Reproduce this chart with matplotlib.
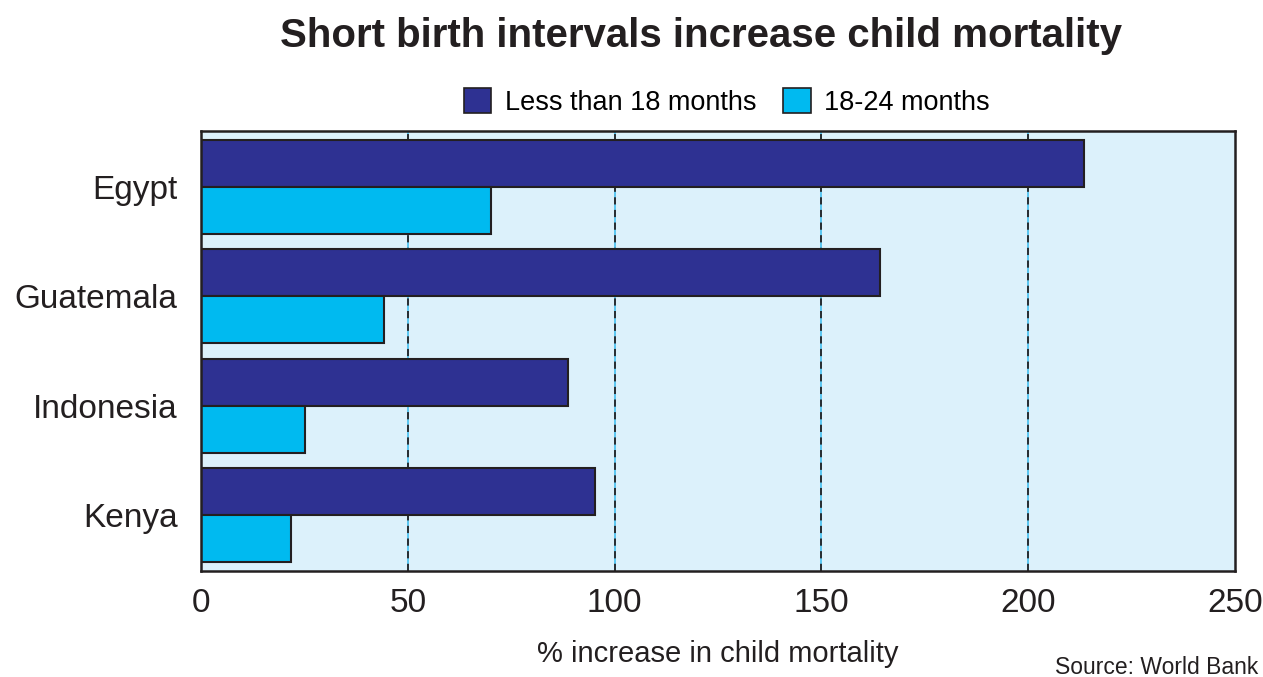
import matplotlib
matplotlib.use("Agg")
import matplotlib.pyplot as plt
from matplotlib.patches import Patch
import numpy as np

plt.rcParams['font.family'] = ['Liberation Sans', 'DejaVu Sans']

countries = ["Egypt", "Guatemala", "Indonesia", "Kenya"]
less18 = [213.5, 164.2, 88.7, 95.3]
m18_24 = [70.1, 44.2, 25.1, 21.8]
xticks = [0, 50, 100, 150, 200, 250]

dark = "#2E3192"
light = "#00BAF0"
bg = "#DCF1FB"
edge = "#231F20"

fig = plt.figure(figsize=(12.63, 6.77), dpi=100)
ax = fig.add_axes([201/1263, 1-571/677, (1235-201)/1263, (571-131)/677])
ax.set_facecolor(bg)

y = np.arange(len(countries))
h = 0.43
for gx in xticks[1:-1]:
    ax.axvline(gx, color="#4FC3F0", lw=1.3, zorder=1)
    ax.axvline(gx, color=edge, lw=1.3, ls=(0, (4, 3)), zorder=1.5)
ax.barh(y - h/2, less18, height=h, color=dark, edgecolor=edge, lw=1.5, zorder=2)
ax.barh(y + h/2, m18_24, height=h, color=light, edgecolor=edge, lw=1.5, zorder=2)

ax.set_xlim(0, 250)
ax.set_ylim(3.51, -0.51)
ax.set_yticks(y)
ax.set_yticklabels(countries, fontsize=24, color="#231F20")
ax.set_xticks(xticks)
ax.set_xticklabels([str(t) for t in xticks], fontsize=24, color="#231F20")
ax.tick_params(length=0, pad=12)
ax.tick_params(axis='y', pad=17)
for s in ax.spines.values():
    s.set_linewidth(1.8)
    s.set_color("#231F20")

ax.set_xlabel("% increase in child mortality", fontsize=21, color="#231F20", labelpad=15)

fig.text(701/1263, 1-36/677, "Short birth intervals increase child mortality", ha="center", va="center",
         fontsize=29, fontweight="bold", color="#231F20")

handles = [Patch(facecolor=dark, edgecolor=edge, lw=1.2), Patch(facecolor=light, edgecolor=edge, lw=1.2)]
fig.legend(handles, ["Less than 18 months", "18-24 months"], loc="center", bbox_to_anchor=(727/1263, 1-102/677),
           ncol=2, frameon=False, fontsize=19.5, handlelength=1.0, handleheight=1.0, handletextpad=0.5,
           columnspacing=1.0)

fig.text(1258/1263, 1-668/677, "Source: World Bank", ha="right", va="center", fontsize=16.5, color="#231F20")

fig.savefig("out.png", dpi=100)
